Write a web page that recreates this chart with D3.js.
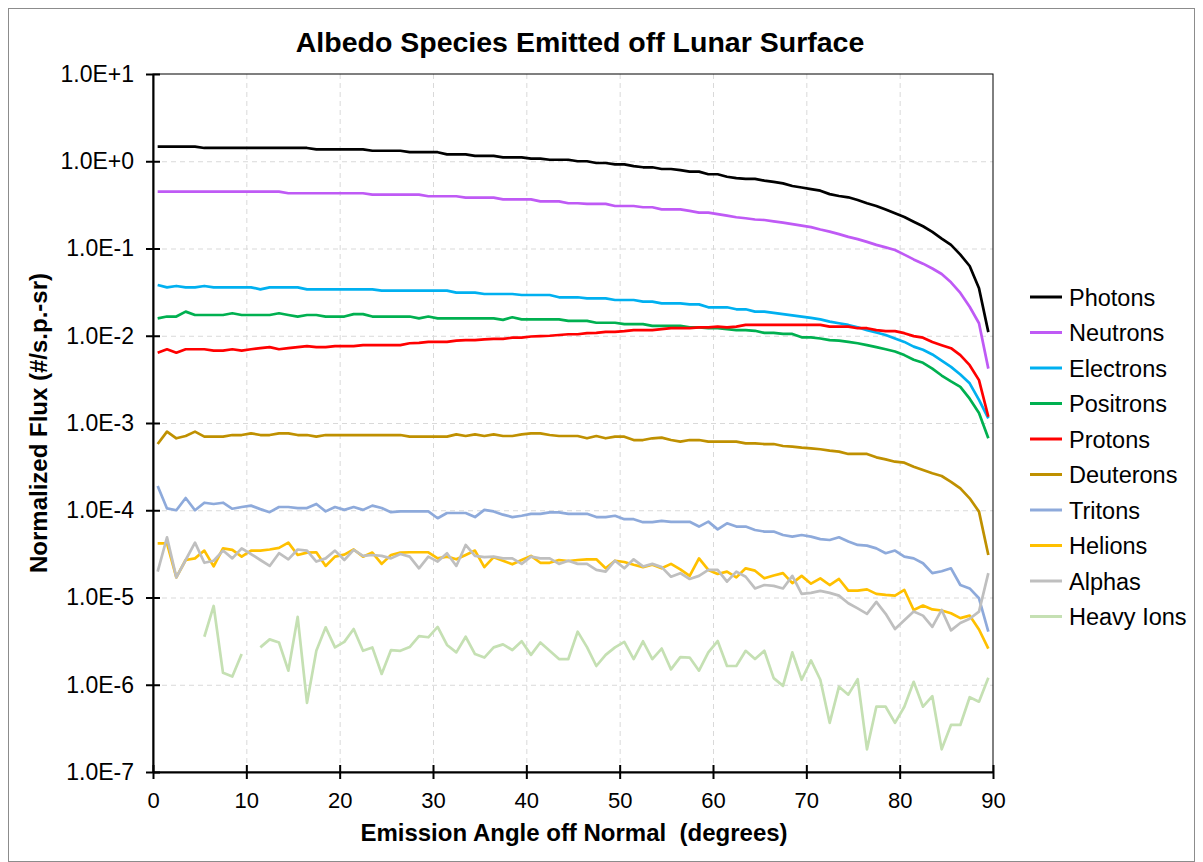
<!DOCTYPE html>
<html>
<head>
<meta charset="utf-8">
<script src="https://cdn.jsdelivr.net/npm/d3@7"></script>
<style>
    body { margin: 0; background: #fff; }
    svg { display: block; font-family: 'Liberation Sans', Arial, sans-serif; }
    .grid line { stroke: #d9d9d9; stroke-width: 1; stroke-dasharray: 5, 4; }
    .grid path { display: none; }
    .axis path, .axis line { stroke: #000; stroke-width: 2; }
    .axis text { font-size: 22px; fill: #000; }
    .y.axis text { font-size: 23px; }
    .line { fill: none; stroke-width: 2.7; stroke-linejoin: round; }
</style>
</head>
<body>
<svg class="chart"></svg>
<script>
// Emission angle bins (degrees)
var angles = [
    0.5, 1.5, 2.5, 3.5, 4.5, 5.5, 6.5, 7.5, 8.5, 9.5,
    10.5, 11.5, 12.5, 13.5, 14.5, 15.5, 16.5, 17.5, 18.5, 19.5,
    20.5, 21.5, 22.5, 23.5, 24.5, 25.5, 26.5, 27.5, 28.5, 29.5,
    30.5, 31.5, 32.5, 33.5, 34.5, 35.5, 36.5, 37.5, 38.5, 39.5,
    40.5, 41.5, 42.5, 43.5, 44.5, 45.5, 46.5, 47.5, 48.5, 49.5,
    50.5, 51.5, 52.5, 53.5, 54.5, 55.5, 56.5, 57.5, 58.5, 59.5,
    60.5, 61.5, 62.5, 63.5, 64.5, 65.5, 66.5, 67.5, 68.5, 69.5,
    70.5, 71.5, 72.5, 73.5, 74.5, 75.5, 76.5, 77.5, 78.5, 79.5,
    80.5, 81.5, 82.5, 83.5, 84.5, 85.5, 86.5, 87.5, 88.5, 89.5
];

var photons = [
    1.47, 1.47, 1.47, 1.47, 1.47, 1.42, 1.42, 1.42, 1.42, 1.42,
    1.42, 1.42, 1.42, 1.42, 1.42, 1.42, 1.42, 1.37, 1.37, 1.37,
    1.37, 1.37, 1.37, 1.32, 1.32, 1.32, 1.32, 1.27, 1.27, 1.27,
    1.27, 1.2, 1.2, 1.2, 1.15, 1.15, 1.15, 1.11, 1.11, 1.11,
    1.07, 1.07, 1.04, 1.04, 1.04, 1.0, 1.0, 0.955, 0.955, 0.92,
    0.92, 0.88, 0.853, 0.853, 0.815, 0.815, 0.79, 0.76, 0.76, 0.71,
    0.71, 0.665, 0.64, 0.627, 0.627, 0.6, 0.58, 0.558, 0.52, 0.5,
    0.48, 0.46, 0.42, 0.4, 0.386, 0.36, 0.33, 0.307, 0.28, 0.253,
    0.23, 0.203, 0.18, 0.155, 0.13, 0.11, 0.085, 0.063, 0.035, 0.011
];

var neutrons = [
    0.448, 0.448, 0.448, 0.448, 0.448, 0.448, 0.448, 0.448, 0.448, 0.448,
    0.448, 0.448, 0.448, 0.448, 0.43, 0.43, 0.43, 0.43, 0.43, 0.43,
    0.43, 0.43, 0.43, 0.414, 0.414, 0.414, 0.414, 0.414, 0.414, 0.397,
    0.397, 0.397, 0.397, 0.383, 0.383, 0.383, 0.383, 0.366, 0.366, 0.366,
    0.366, 0.347, 0.347, 0.347, 0.33, 0.33, 0.325, 0.325, 0.325, 0.307,
    0.307, 0.307, 0.297, 0.297, 0.281, 0.281, 0.281, 0.27, 0.258, 0.258,
    0.248, 0.238, 0.228, 0.222, 0.215, 0.212, 0.205, 0.198, 0.19, 0.183,
    0.176, 0.165, 0.156, 0.146, 0.136, 0.128, 0.119, 0.11, 0.103, 0.096,
    0.085, 0.075, 0.067, 0.059, 0.051, 0.041, 0.031, 0.0215, 0.0139, 0.0042
];

var electrons = [
    0.0382, 0.0359, 0.0372, 0.0359, 0.0359, 0.0372, 0.0359, 0.0359, 0.0359, 0.0359,
    0.0359, 0.034, 0.0359, 0.0359, 0.0359, 0.0359, 0.034, 0.034, 0.034, 0.034,
    0.034, 0.034, 0.034, 0.034, 0.0329, 0.0329, 0.0329, 0.0329, 0.0329, 0.0329,
    0.0329, 0.0329, 0.0312, 0.0312, 0.0312, 0.0301, 0.0301, 0.0301, 0.0301, 0.0293,
    0.0293, 0.0293, 0.0293, 0.0276, 0.0276, 0.0276, 0.0268, 0.0268, 0.0268, 0.0257,
    0.0257, 0.0257, 0.0246, 0.0246, 0.0235, 0.0235, 0.0235, 0.0229, 0.0229, 0.0212,
    0.0212, 0.0212, 0.0201, 0.0201, 0.0189, 0.0189, 0.0183, 0.0177, 0.0171, 0.0166,
    0.016, 0.0154, 0.0145, 0.0139, 0.0133, 0.0125, 0.0116, 0.0109, 0.0102, 0.0093,
    0.0085, 0.0075, 0.0069, 0.0061, 0.0052, 0.0044, 0.0036, 0.00285, 0.00184, 0.00113
];

var positrons = [
    0.0158, 0.0166, 0.0166, 0.0189, 0.0173, 0.0173, 0.0173, 0.0173, 0.0181, 0.0173,
    0.0173, 0.0173, 0.0173, 0.0181, 0.0173, 0.0166, 0.0173, 0.0173, 0.0166, 0.0166,
    0.0166, 0.0177, 0.0177, 0.0166, 0.0166, 0.0166, 0.0166, 0.0166, 0.0158, 0.0166,
    0.0158, 0.0158, 0.0158, 0.0158, 0.0158, 0.0158, 0.0158, 0.0152, 0.0163, 0.0154,
    0.0154, 0.0154, 0.0154, 0.0154, 0.0148, 0.0148, 0.0148, 0.0141, 0.0141, 0.0141,
    0.0136, 0.0136, 0.0136, 0.013, 0.013, 0.013, 0.013, 0.0125, 0.0125, 0.0122,
    0.0122, 0.0119, 0.0116, 0.0116, 0.0114, 0.0108, 0.0108, 0.0105, 0.0105, 0.0096,
    0.0096, 0.0093, 0.0089, 0.0088, 0.0085, 0.0082, 0.0078, 0.0074, 0.007, 0.0066,
    0.006, 0.0053, 0.0049, 0.0042, 0.0035, 0.003, 0.0026, 0.0019, 0.0013, 0.00067
];

var protons = [
    0.0064, 0.007, 0.0064, 0.007, 0.007, 0.007, 0.00675, 0.00675, 0.007, 0.00675,
    0.007, 0.0072, 0.0074, 0.007, 0.0072, 0.0074, 0.0076, 0.0074, 0.0074, 0.0076,
    0.0076, 0.0076, 0.0078, 0.0078, 0.0078, 0.0078, 0.0078, 0.0082, 0.0083, 0.0085,
    0.0085, 0.0085, 0.0088, 0.0089, 0.0089, 0.0091, 0.0092, 0.0092, 0.0095, 0.0095,
    0.0098, 0.0099, 0.01, 0.0102, 0.0104, 0.0104, 0.0107, 0.0108, 0.0111, 0.0111,
    0.0113, 0.0116, 0.0116, 0.0116, 0.0119, 0.0122, 0.0122, 0.0122, 0.0125, 0.0125,
    0.0127, 0.0125, 0.0127, 0.0133, 0.0133, 0.0133, 0.0133, 0.0133, 0.0133, 0.0133,
    0.0133, 0.0133, 0.0127, 0.0127, 0.0127, 0.0122, 0.0122, 0.0116, 0.0113, 0.0113,
    0.0107, 0.0099, 0.0095, 0.0085, 0.0078, 0.0072, 0.006, 0.0046, 0.0031, 0.00118
];

var deuterons = [
    0.000574, 0.000796, 0.000668, 0.00071, 0.000796, 0.000697, 0.000697, 0.000697, 0.000728, 0.000728,
    0.000762, 0.000728, 0.000728, 0.000762, 0.000762, 0.000728, 0.000728, 0.000697, 0.000728, 0.000728,
    0.000728, 0.000728, 0.000728, 0.000728, 0.000728, 0.000728, 0.000728, 0.000697, 0.000697, 0.000697,
    0.000697, 0.000697, 0.000741, 0.00071, 0.000741, 0.00071, 0.000741, 0.00071, 0.00071, 0.000741,
    0.000762, 0.000762, 0.000728, 0.00071, 0.00071, 0.00071, 0.000668, 0.00071, 0.000668, 0.000697,
    0.000697, 0.000638, 0.000638, 0.000668, 0.00068, 0.000638, 0.000611, 0.000638, 0.000638, 0.000611,
    0.000611, 0.000611, 0.000611, 0.000585, 0.000585, 0.000574, 0.000574, 0.000545, 0.000535, 0.000522,
    0.000513, 0.0005, 0.000482, 0.00047, 0.000442, 0.000442, 0.000442, 0.000404, 0.000383, 0.00036,
    0.000351, 0.000315, 0.000289, 0.000265, 0.000247, 0.000212, 0.000178, 0.000137, 0.0000964, 0.0000307
];

var tritons = [
    1.9e-4, 1.05e-4, 1.0e-4, 1.38e-4, 1.0e-4, 1.22e-4, 1.18e-4, 1.22e-4, 1.04e-4, 1.09e-4,
    1.13e-4, 1.03e-4, 9.5e-5, 1.09e-4, 1.09e-4, 1.06e-4, 1.06e-4, 1.18e-4, 9.7e-5, 1.09e-4,
    1.01e-4, 1.09e-4, 1.01e-4, 1.13e-4, 1.06e-4, 9.5e-5, 9.7e-5, 9.7e-5, 9.7e-5, 9.7e-5,
    8.1e-5, 9.3e-5, 9.3e-5, 9.3e-5, 8.35e-5, 1.01e-4, 9.7e-5, 8.9e-5, 8.35e-5, 8.65e-5,
    9.1e-5, 9.1e-5, 9.45e-5, 9.45e-5, 9.1e-5, 9.1e-5, 9.1e-5, 8.35e-5, 8.35e-5, 8.65e-5,
    7.9e-5, 7.9e-5, 7.3e-5, 7.3e-5, 7.55e-5, 7.37e-5, 7.37e-5, 7.37e-5, 6.5e-5, 7.4e-5,
    6.04e-5, 7.08e-5, 6.5e-5, 6.5e-5, 5.94e-5, 5.7e-5, 5.7e-5, 5.2e-5, 4.99e-5, 5.2e-5,
    4.99e-5, 4.67e-5, 4.56e-5, 4.9e-5, 4.38e-5, 4.0e-5, 3.93e-5, 3.66e-5, 3.22e-5, 3.45e-5,
    2.94e-5, 2.81e-5, 2.47e-5, 1.9e-5, 2.0e-5, 2.16e-5, 1.39e-5, 1.27e-5, 9.8e-6, 4.06e-6
];

var helions = [
    4.18e-5, 4.18e-5, 1.7e-5, 2.69e-5, 2.81e-5, 3.45e-5, 2.27e-5, 3.66e-5, 3.51e-5, 2.94e-5,
    3.45e-5, 3.45e-5, 3.55e-5, 3.7e-5, 4.25e-5, 3.07e-5, 3.27e-5, 3.3e-5, 2.3e-5, 2.94e-5,
    3.1e-5, 3.55e-5, 2.94e-5, 3.27e-5, 2.43e-5, 3.07e-5, 3.27e-5, 3.3e-5, 3.3e-5, 3.3e-5,
    2.81e-5, 2.94e-5, 2.74e-5, 3.07e-5, 3.45e-5, 2.23e-5, 2.9e-5, 2.64e-5, 2.4e-5, 2.69e-5,
    3.0e-5, 2.5e-5, 2.5e-5, 2.69e-5, 2.62e-5, 2.69e-5, 2.74e-5, 2.74e-5, 2.16e-5, 2.64e-5,
    2.55e-5, 2.37e-5, 2.23e-5, 2.37e-5, 2.16e-5, 2.43e-5, 2.1e-5, 1.77e-5, 2.81e-5, 2.07e-5,
    1.86e-5, 1.98e-5, 1.7e-5, 2.16e-5, 2.03e-5, 1.66e-5, 1.79e-5, 1.9e-5, 1.46e-5, 1.77e-5,
    1.44e-5, 1.66e-5, 1.39e-5, 1.63e-5, 1.2e-5, 1.2e-5, 1.24e-5, 1.1e-5, 1.07e-5, 1.05e-5,
    1.22e-5, 7.2e-6, 8.1e-6, 7.3e-6, 7.1e-6, 6.6e-6, 5.8e-6, 6.2e-6, 4.3e-6, 2.6e-6
];

var alphas = [
    1.98e-5, 4.9e-5, 1.7e-5, 2.69e-5, 4.25e-5, 2.5e-5, 2.64e-5, 3.45e-5, 2.81e-5, 3.66e-5,
    3.15e-5, 2.69e-5, 2.3e-5, 3.22e-5, 2.74e-5, 3.55e-5, 3.45e-5, 2.58e-5, 2.81e-5, 3.45e-5,
    2.69e-5, 3.51e-5, 3.0e-5, 3.07e-5, 3.0e-5, 2.81e-5, 3.15e-5, 2.94e-5, 2.16e-5, 2.94e-5,
    2.58e-5, 3.22e-5, 2.3e-5, 4.0e-5, 3.0e-5, 2.9e-5, 2.94e-5, 2.81e-5, 2.81e-5, 2.43e-5,
    2.94e-5, 2.81e-5, 2.81e-5, 2.43e-5, 2.64e-5, 2.43e-5, 2.43e-5, 2.07e-5, 1.98e-5, 2.64e-5,
    2.16e-5, 2.74e-5, 2.27e-5, 2.43e-5, 2.23e-5, 1.73e-5, 1.9e-5, 1.63e-5, 1.77e-5, 2.07e-5,
    2.07e-5, 1.52e-5, 1.98e-5, 1.73e-5, 1.27e-5, 1.39e-5, 1.36e-5, 1.27e-5, 1.77e-5, 1.1e-5,
    1.13e-5, 1.19e-5, 1.13e-5, 1.05e-5, 8.6e-6, 7.5e-6, 6.5e-6, 8.9e-6, 6.5e-6, 4.35e-6,
    5.5e-6, 6.9e-6, 6.2e-6, 4.6e-6, 7.2e-6, 4.2e-6, 5.1e-6, 5.7e-6, 6.9e-6, 1.9e-5
];

// null = no counts in that bin (gap in the line)
var heavyIons = [
    null, null, null, null, null, 3.55e-6, 8.0e-6, 1.37e-6, 1.24e-6, 2.25e-6,
    null, 2.68e-6, 3.31e-6, 3.05e-6, 1.45e-6, 6.0e-6, 6.2e-7, 2.45e-6, 4.55e-6, 2.68e-6,
    3.1e-6, 4.35e-6, 2.45e-6, 2.68e-6, 1.33e-6, 2.5e-6, 2.45e-6, 2.7e-6, 3.6e-6, 3.5e-6,
    4.6e-6, 2.86e-6, 2.35e-6, 3.55e-6, 2.25e-6, 2.05e-6, 2.68e-6, 2.9e-6, 2.5e-6, 3.15e-6,
    2.2e-6, 3.05e-6, 2.45e-6, 1.97e-6, 1.97e-6, 4.06e-6, 2.7e-6, 1.64e-6, 2.2e-6, 2.68e-6,
    3.1e-6, 1.97e-6, 3.15e-6, 1.97e-6, 2.6e-6, 1.5e-6, 2.07e-6, 2.05e-6, 1.45e-6, 2.35e-6,
    3.17e-6, 1.64e-6, 1.64e-6, 2.45e-6, 1.97e-6, 2.45e-6, 1.19e-6, 9.7e-7, 2.35e-6, 1.14e-6,
    1.9e-6, 1.14e-6, 3.66e-7, 9.5e-7, 7.7e-7, 1.16e-6, 1.82e-7, 5.6e-7, 5.6e-7, 3.66e-7,
    5.6e-7, 1.08e-6, 5.6e-7, 7.4e-7, 1.82e-7, 3.46e-7, 3.46e-7, 7.2e-7, 6.4e-7, 1.2e-6
];

var seriesNames = ['Photons', 'Neutrons', 'Electrons', 'Positrons', 'Protons',
    'Deuterons', 'Tritons', 'Helions', 'Alphas', 'Heavy Ions'];
var seriesValues = [photons, neutrons, electrons, positrons, protons,
    deuterons, tritons, helions, alphas, heavyIons];
var seriesColors = ['#000000', '#bf5af5', '#00b0f0', '#00b050', '#ff0000',
    '#bf9000', '#8eaadb', '#ffc000', '#bfbfbf', '#c5e0b3'];

var xTicks = [0, 10, 20, 30, 40, 50, 60, 70, 80, 90];
var yTicks = [1e1, 1e0, 1e-1, 1e-2, 1e-3, 1e-4, 1e-5, 1e-6, 1e-7];

// Size and plot area
var W = 1203, H = 862;
var margin = { top: 74, right: 210, bottom: 90, left: 153 },
    width = 993 - margin.left,
    height = 772 - margin.top;

var svg = d3.select('.chart').attr('width', W).attr('height', H);

svg.append('rect').attr('width', W).attr('height', H).attr('fill', '#fff');
// outer chart border
svg.append('rect')
    .attr('x', 8.5).attr('y', 8.5)
    .attr('width', W - 17).attr('height', H - 9)
    .attr('fill', 'none').attr('stroke', '#8c8c8c').attr('stroke-width', 1);

var chart = svg.append('g')
    .attr('transform', 'translate(' + margin.left + ',' + margin.top + ')');

var x = d3.scaleLinear().domain([0, 90]).range([0, width]);
var y = d3.scaleLog().domain([1e-7, 1e1]).range([height, 0]);

// format 1.0E+1 style
function sci(d) {
    var e = Math.round(Math.log10(d));
    return '1.0E' + (e >= 0 ? '+' : '-') + Math.abs(e);
}

// gridlines
chart.append('g')
    .attr('class', 'grid')
    .call(d3.axisLeft(y).tickValues(yTicks.slice(1)).tickSize(-width).tickFormat(''));
chart.append('g')
    .attr('class', 'grid')
    .attr('transform', 'translate(0,' + height + ')')
    .call(d3.axisBottom(x).tickValues(xTicks.slice(1, -1)).tickSize(-height).tickFormat(''));

// plot frame (top / right)
chart.append('rect')
    .attr('width', width).attr('height', height)
    .attr('fill', 'none').attr('stroke', '#000').attr('stroke-width', 1);

// series lines
var line = d3.line()
    .defined(function (d) { return d.v != null; })
    .x(function (d) { return x(d.a); })
    .y(function (d) { return y(d.v); });

seriesValues.forEach(function (vals, k) {
    var pts = angles.map(function (a, i) { return { a: a, v: vals[i] }; });
    chart.append('path')
        .datum(pts)
        .attr('class', 'line')
        .attr('stroke', seriesColors[k])
        .attr('d', line);
});

// axes
var xAxis = chart.append('g')
    .attr('class', 'x axis')
    .attr('transform', 'translate(0,' + height + ')')
    .call(d3.axisBottom(x).tickValues(xTicks).tickSize(7).tickSizeOuter(0).tickPadding(13));
xAxis.selectAll('.tick line').attr('y1', -7);

var yAxis = chart.append('g')
    .attr('class', 'y axis')
    .call(d3.axisLeft(y).tickValues(yTicks).tickFormat(sci).tickSize(7).tickSizeOuter(0).tickPadding(12));
yAxis.selectAll('.tick line').attr('x1', 7);

// title
svg.append('text')
    .attr('x', 580).attr('y', 52)
    .attr('text-anchor', 'middle')
    .style('font-size', '28.5px').style('font-weight', 'bold')
    .text('Albedo Species Emitted off Lunar Surface');

// axis titles
svg.append('text')
    .attr('x', 574).attr('y', 841)
    .attr('text-anchor', 'middle')
    .style('font-size', '24px').style('font-weight', 'bold')
    .style('white-space', 'pre')
    .text('Emission Angle off Normal  (degrees)');

svg.append('text')
    .attr('transform', 'translate(47,423) rotate(-90)')
    .attr('text-anchor', 'middle')
    .style('font-size', '24px').style('font-weight', 'bold')
    .text('Normalized Flux (#/s.p.-sr)');

// legend
var legend = svg.append('g').attr('transform', 'translate(1030,297)');
seriesNames.forEach(function (name, k) {
    var row = legend.append('g').attr('transform', 'translate(0,' + (k * 35.5) + ')');
    row.append('line')
        .attr('x1', 0).attr('x2', 32)
        .attr('stroke', seriesColors[k]).attr('stroke-width', 3);
    row.append('text')
        .attr('x', 39).attr('y', 8.5)
        .style('font-size', '23.5px')
        .text(name);
});
</script>
</body>
</html>
